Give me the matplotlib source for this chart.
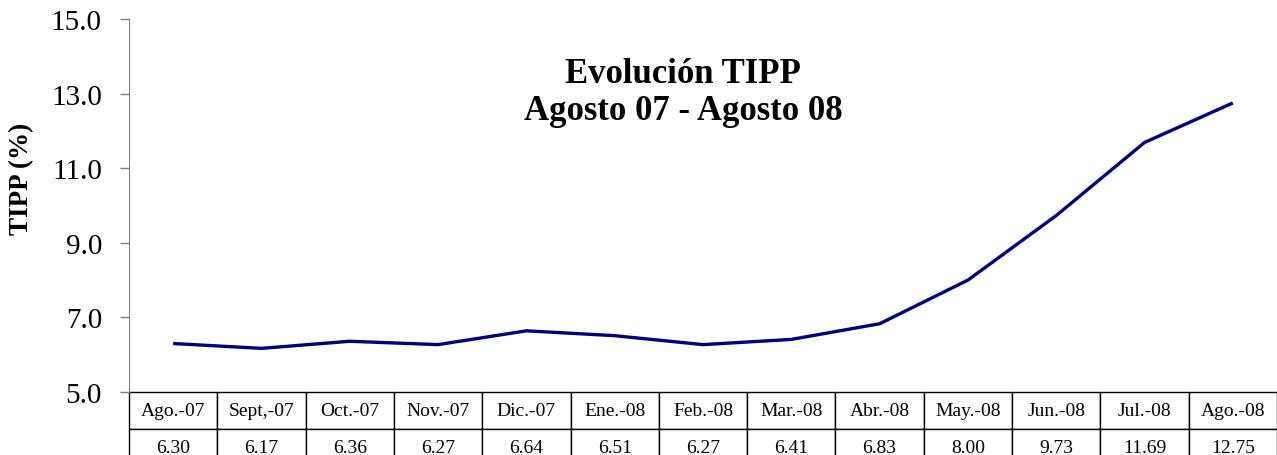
import matplotlib.pyplot as plt

plt.rcParams['font.family'] = ['Liberation Serif', 'DejaVu Serif']

months = ["Ago.-07", "Sept,-07", "Oct.-07", "Nov.-07", "Dic.-07", "Ene.-08",
          "Feb.-08", "Mar.-08", "Abr.-08", "May.-08", "Jun.-08", "Jul.-08", "Ago.-08"]
tipp = [6.30, 6.17, 6.36, 6.27, 6.64, 6.51, 6.27, 6.41, 6.83, 8.00, 9.73, 11.69, 12.75]
yticks = [5.0, 7.0, 9.0, 11.0, 13.0, 15.0]

W, H = 1277, 456
fig = plt.figure(figsize=(W / 100, H / 100), dpi=100)
ax = fig.add_axes([129 / W, 1 - 393 / H, 1148 / W, 373 / H])

x = list(range(len(months)))
ax.plot(x, tipp, color="#000080", lw=2.4, solid_capstyle="butt")
ax.set_xlim(-0.5, len(months) - 0.5)
ax.set_ylim(5, 15)
ax.set_yticks(yticks)
ax.set_yticklabels([f"{v:.1f}" for v in yticks], fontsize=21)
ax.set_xticks([])
ax.tick_params(axis="y", direction="out", length=6.5, width=1, color="#808080", pad=13)
for s in ("top", "right", "bottom"):
    ax.spines[s].set_visible(False)
ax.spines["left"].set_color("#808080")
ax.set_ylabel("TIPP (%)", fontsize=19.5, fontweight="bold")
ax.yaxis.set_label_coords(-0.083, 0.574)

tbl = ax.table(cellText=[months, [f"{v:.2f}" for v in tipp]],
               cellLoc="center", bbox=[0, -74 / 373, 1, 74 / 373])
tbl.auto_set_font_size(False)
tbl.set_fontsize(14)
for (r, c), cell in tbl.get_celld().items():
    cell.set_edgecolor("black")
    cell.set_linewidth(1)
    cell.set_clip_on(False)

ax.text(0.4826, 0.805, "Evolución TIPP\nAgosto 07 - Agosto 08", transform=ax.transAxes,
        ha="center", va="center", fontsize=25, fontweight="bold", linespacing=1.15)

fig.savefig("out.png", dpi=100)
